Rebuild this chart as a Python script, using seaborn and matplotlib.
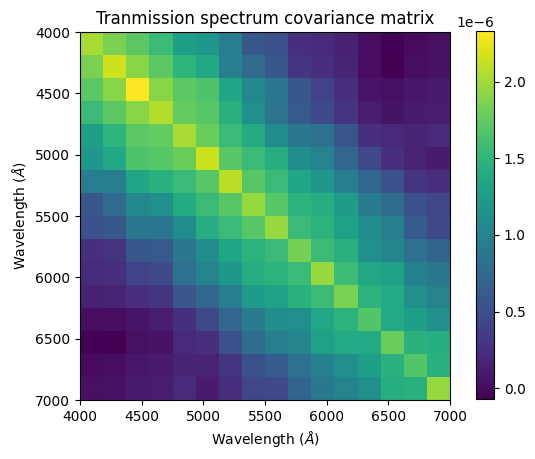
import numpy as np
import matplotlib
matplotlib.use("Agg")
import matplotlib.pyplot as plt
import seaborn as sns

# wavelength grid edges (Angstrom) and tick labels
wl_min, wl_max = 4000, 7000
tick_labels = ["4000", "4500", "5000", "5500", "6000", "6500", "7000"]

# covariance values, in units of 1e-6, one row per bin
row0 = [2.02, 1.85, 1.73, 1.56, 1.28, 1.20, 0.94, 0.58, 0.53, 0.25, 0.22, 0.15, 0.01, -0.06, 0.00, 0.03]
row1 = [1.85, 2.15, 1.90, 1.73, 1.49, 1.37, 0.94, 0.75, 0.58, 0.30, 0.25, 0.17, 0.01, -0.07, 0.01, 0.04]
row2 = [1.73, 1.90, 2.33, 1.90, 1.73, 1.66, 1.35, 1.05, 0.88, 0.58, 0.40, 0.25, 0.06, 0.03, 0.08, 0.10]
row3 = [1.56, 1.73, 1.90, 2.05, 1.75, 1.70, 1.45, 1.13, 0.86, 0.60, 0.47, 0.30, 0.12, 0.05, 0.10, 0.12]
row4 = [1.28, 1.49, 1.73, 1.75, 2.02, 1.78, 1.56, 1.40, 1.08, 0.88, 0.82, 0.55, 0.26, 0.20, 0.17, 0.22]
row5 = [1.20, 1.37, 1.66, 1.70, 1.78, 2.15, 1.70, 1.56, 1.43, 1.10, 1.00, 0.72, 0.45, 0.25, 0.16, 0.10]
row6 = [0.94, 0.94, 1.35, 1.45, 1.56, 1.70, 2.08, 1.70, 1.56, 1.35, 1.20, 0.94, 0.72, 0.53, 0.30, 0.24]
row7 = [0.58, 0.75, 1.05, 1.13, 1.40, 1.56, 1.70, 1.95, 1.70, 1.47, 1.43, 1.25, 0.93, 0.77, 0.53, 0.43]
row8 = [0.53, 0.58, 0.88, 0.86, 1.08, 1.43, 1.56, 1.70, 1.95, 1.56, 1.47, 1.30, 1.10, 0.94, 0.62, 0.45]
row9 = [0.25, 0.30, 0.58, 0.60, 0.88, 1.10, 1.35, 1.47, 1.56, 1.83, 1.56, 1.45, 1.13, 1.02, 0.82, 0.70]
row10 = [0.22, 0.25, 0.40, 0.47, 0.82, 1.00, 1.20, 1.43, 1.47, 1.56, 1.95, 1.57, 1.36, 1.30, 0.98, 0.89]
row11 = [0.15, 0.17, 0.25, 0.30, 0.55, 0.72, 0.94, 1.25, 1.30, 1.45, 1.57, 1.85, 1.47, 1.38, 1.13, 1.00]
row12 = [0.01, 0.01, 0.06, 0.12, 0.26, 0.45, 0.72, 0.93, 1.10, 1.13, 1.36, 1.47, 1.68, 1.38, 1.28, 1.13]
row13 = [-0.06, -0.07, 0.03, 0.05, 0.20, 0.25, 0.53, 0.77, 0.94, 1.02, 1.30, 1.38, 1.38, 1.78, 1.46, 1.42]
row14 = [0.00, 0.01, 0.08, 0.10, 0.17, 0.16, 0.30, 0.53, 0.62, 0.82, 0.98, 1.13, 1.28, 1.46, 1.68, 1.45]
row15 = [0.03, 0.04, 0.10, 0.12, 0.22, 0.10, 0.24, 0.43, 0.45, 0.70, 0.89, 1.00, 1.13, 1.42, 1.45, 1.95]

cov = np.array([row0, row1, row2, row3, row4, row5, row6, row7,
                row8, row9, row10, row11, row12, row13, row14, row15]) * 1e-6
n = cov.shape[0]

fig = plt.figure(figsize=(5.35, 4.59), dpi=100)
ax = fig.add_axes([80 / 535, 59 / 459, 370 / 535, 368 / 459])
cax = fig.add_axes([476 / 535, 60 / 459, 18 / 535, 368 / 459])

sns.heatmap(cov, ax=ax, cbar_ax=cax, cmap="viridis",
            xticklabels=False, yticklabels=False)

# real wavelength ticks on top of the cell grid
pos = np.linspace(0, n, len(tick_labels))
ax.set_xticks(pos)
ax.set_xticklabels(tick_labels, rotation=0)
ax.set_yticks(pos)
ax.set_yticklabels(tick_labels, rotation=0)
ax.tick_params(length=3.5, width=0.8)
for s in ax.spines.values():
    s.set_visible(True)
    s.set_linewidth(0.8)

ax.set_xlabel(r"Wavelength ($\AA$)")
ax.set_ylabel(r"Wavelength ($\AA$)")
ax.set_title("Tranmission spectrum covariance matrix")

cb = ax.collections[0].colorbar
cb.outline.set_linewidth(0.8)
cb.outline.set_visible(True)

fig.savefig("out.png", dpi=100)
